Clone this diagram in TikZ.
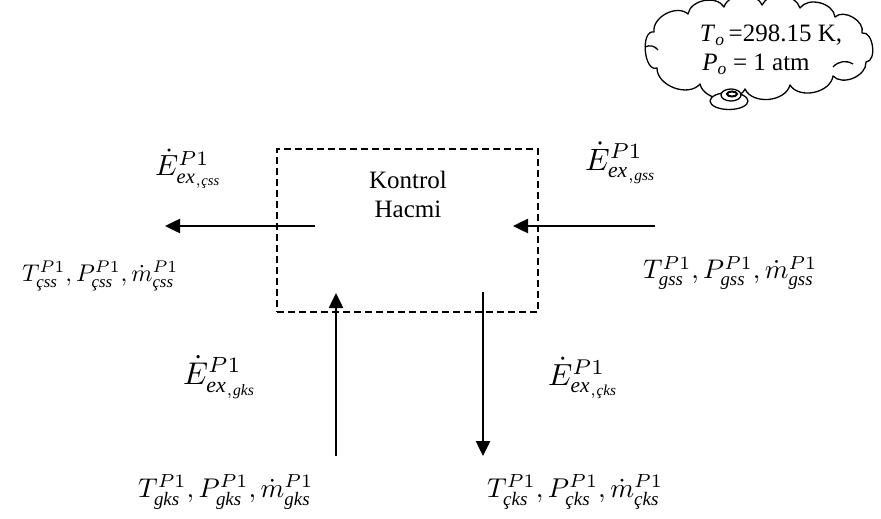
\documentclass[tikz,border=0pt]{standalone}
\usepackage{amsmath}
\usepackage{graphicx}
\usepackage{fontspec}
\setmainfont{Liberation Serif}
\usetikzlibrary{arrows.meta}
\newcommand{\fitw}[2]{\resizebox{#1}{!}{$#2$}}
\newcommand{\sbt}[1]{\text{\itshape #1}}
\begin{document}
\begin{tikzpicture}[x=1pt,y=-1pt,
  flow/.style={line width=2.5pt,-{Triangle[length=15pt,width=14pt]}},
  lbl/.style={inner sep=0pt,anchor=west},
  txt/.style={inner sep=0pt,font=\fontsize{25}{29}\selectfont,align=center},
  cloudline/.style={line width=1.3pt,line join=round}]
\useasboundingbox (0,0) rectangle (881,519);
% control volume
\node[draw,line width=1.6pt,dash pattern=on 7pt off 4pt,
  minimum width=261pt,minimum height=163pt,inner sep=0pt] (box) at (407.5,230.5) {};
\node[txt] (kh) at (408,194) {Kontrol\\Hacmi};
% arrows
\coordinate (lA) at (315,226); \coordinate (lB) at (165,226);
\coordinate (rA) at (655,226); \coordinate (rB) at (513,226);
\coordinate (uA) at (336,456); \coordinate (uB) at (336,293);
\coordinate (dA) at (483,292); \coordinate (dB) at (483,456);
\draw[flow] (lA) -- (lB);
\draw[flow] (rA) -- (rB);
\draw[flow] (uA) -- (uB);
\draw[flow] (dA) -- (dB);
% labels
\node[lbl] (ec) at (155,169) {\fitw{67pt}{\dot{E}^{P1}_{\sbt{ex}_{,\sbt{çss}}}}};
\node[lbl] (eg) at (585,163) {\fitw{72pt}{\dot{E}^{P1}_{\sbt{ex}_{,\sbt{gss}}}}};
\node[lbl] (egk) at (183,377) {\fitw{74pt}{\dot{E}^{P1}_{\sbt{ex}_{,\sbt{gks}}}}};
\node[lbl] (eck) at (548,378) {\fitw{71pt}{\dot{E}^{P1}_{\sbt{ex}_{,\sbt{çks}}}}};
\node[lbl] (tc) at (22,276) {\fitw{156pt}{T^{P1}_{\sbt{çss}},P^{P1}_{\sbt{çss}},\dot{m}^{P1}_{\sbt{çss}}}};
\node[lbl] (tg) at (643,273) {\fitw{174pt}{T^{P1}_{\sbt{gss}},P^{P1}_{\sbt{gss}},\dot{m}^{P1}_{\sbt{gss}}}};
\node[lbl] (tgk) at (138,492) {\fitw{175pt}{T^{P1}_{\sbt{gks}},P^{P1}_{\sbt{gks}},\dot{m}^{P1}_{\sbt{gks}}}};
\node[lbl] (tck) at (487,492) {\fitw{176pt}{T^{P1}_{\sbt{çks}},P^{P1}_{\sbt{çks}},\dot{m}^{P1}_{\sbt{çks}}}};
% cloud
\coordinate (J1) at (654,32);
\coordinate (J2) at (688,14);
\coordinate (J3) at (724,7);
\coordinate (J4) at (762,5);
\coordinate (J5) at (800,8);
\coordinate (J6) at (835,17);
\coordinate (J7) at (862,33);
\coordinate (J8) at (866,62);
\coordinate (J9) at (833,76);
\coordinate (J10) at (790,85);
\coordinate (J11) at (745,89);
\coordinate (J12) at (700,84);
\coordinate (J13) at (657,68);
\draw[cloudline,fill=white] (J1) to[bend left=70] (J2) to[bend left=70] (J3)
  to[bend left=70] (J4) to[bend left=70] (J5) to[bend left=70] (J6)
  to[bend left=75] (J7) to[bend left=95] (J8) to[bend left=70] (J9)
  to[bend left=70] (J10) to[bend left=70] (J11) to[bend left=70] (J12)
  to[bend left=70] (J13) to[bend left=105] (J1) -- cycle;
\coordinate (h1) at (645,47); \coordinate (h2) at (658,50);
\coordinate (h3) at (833,67); \coordinate (h4) at (853,64);
\draw[cloudline] (h1) to[bend left=40] (h2);
\draw[cloudline] (h3) to[bend left=40] (h4);
\draw[line width=1.3pt,fill=white] (729,101) ellipse [x radius=19pt,y radius=8.5pt];
\draw[line width=1.3pt,fill=white] (731,95) ellipse [x radius=10pt,y radius=6pt];
\draw[line width=2pt] (732,94) ellipse [x radius=5pt,y radius=2.5pt];
\node[txt] (c1) at (771,35) {\textit{T}\textsubscript{\textit{o}}\,=298.15 K,};
\node[txt] (c2) at (756,64) {\textit{P}\textsubscript{\textit{o}} = 1 atm};
\end{tikzpicture}
\end{document}
